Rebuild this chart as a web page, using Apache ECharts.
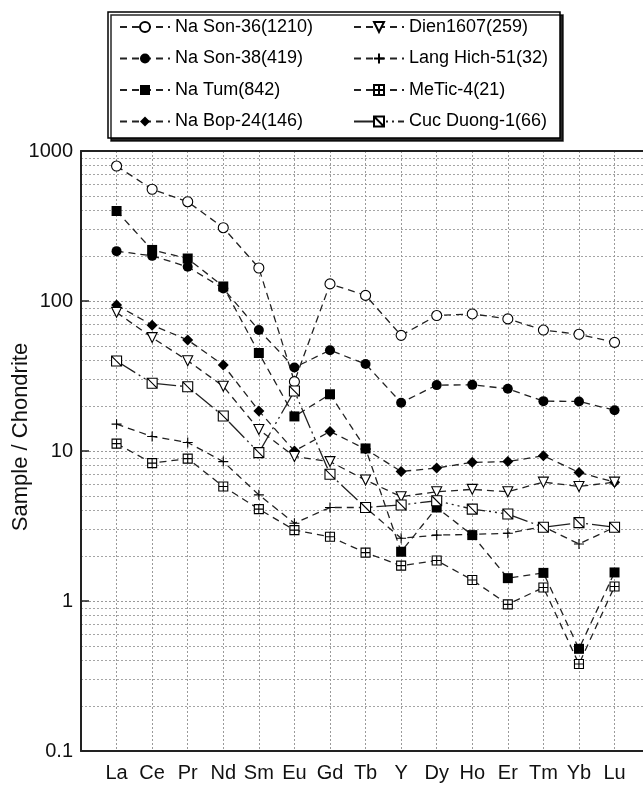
<!DOCTYPE html>
<html>
<head>
<meta charset="utf-8">
<script src="https://cdn.jsdelivr.net/npm/echarts@6/dist/echarts.min.js"></script>
<style>
  html, body { margin: 0; padding: 0; background: #fff; }
  #main { width: 643px; height: 785px; }
</style>
</head>
<body>
<div id="main"></div>
<script>
var elements = ['La', 'Ce', 'Pr', 'Nd', 'Sm', 'Eu', 'Gd', 'Tb', 'Y', 'Dy', 'Ho', 'Er', 'Tm', 'Yb', 'Lu'];
var yTickLabels = ['0.1', '1', '10', '100', '1000'];

var naSon36 = [794, 556, 459, 308, 166, 29, 130, 109, 59, 80, 82, 76, 64, 60, 53];
var naSon38 = [215, 200, 169, 121, 64, 36, 47, 38, 21, 27.5, 27.6, 26, 21.5, 21.4, 18.7];
var naTum = [398, 219, 192, 125, 45, 17, 23.9, 10.4, 2.13, 4.2, 2.75, 1.42, 1.54, 0.48, 1.55];
var naBop24 = [94, 69, 55, 37.4, 18.5, 10.0, 13.5, 10.3, 7.3, 7.7, 8.4, 8.5, 9.3, 7.2, 6.2];
var dien1607 = [84, 57, 40, 27, 13.9, 9.2, 8.5, 6.4, 4.96, 5.35, 5.55, 5.35, 6.2, 5.8, 6.2];
var langHich51 = [15.1, 12.5, 11.4, 8.5, 5.1, 3.3, 4.2, 4.2, 2.62, 2.75, 2.78, 2.83, 3.13, 2.4, 3.1];
var meTic4 = [11.2, 8.3, 8.9, 5.8, 4.1, 2.97, 2.68, 2.1, 1.72, 1.86, 1.38, 0.95, 1.23, 0.38, 1.25];
var cucDuong1 = [39.8, 28.3, 26.8, 17.1, 9.75, 25.1, 7.0, 4.2, 4.37, 4.66, 4.1, 3.8, 3.1, 3.33, 3.1];

var fontName = '"Liberation Sans", Arial, sans-serif';
var dashed = [7, 5];

// [x, y] pairs, x = position of the element on the axis (La = 1)
function toPoints(vals) {
  var out = [];
  for (var i = 0; i < vals.length; i++) {
    out.push([i + 1, vals[i]]);
  }
  return out;
}

function makeSeries(name, vals, symbol, filled, lineType, size) {
  return {
    name: name,
    type: 'line',
    data: toPoints(vals),
    symbol: symbol,
    symbolSize: size || 10,
    showAllSymbol: true,
    color: '#000',
    itemStyle: {
      color: filled ? '#000' : '#fff',
      borderColor: '#000',
      borderWidth: filled ? 0 : 1.1,
      opacity: 1
    },
    lineStyle: { color: '#222', width: 1.3, type: lineType },
    emphasis: { disabled: true },
    animation: false
  };
}

var chartDom = document.getElementById('main');
var chart = echarts.init(chartDom);

var legendText = { fontFamily: fontName, fontSize: 18, color: '#000', lineHeight: 20 };

var option = {
  backgroundColor: '#fff',
  animation: false,
  textStyle: { fontFamily: fontName },
  graphic: [{
    type: 'rect',
    z: 0,
    shape: { x: 108, y: 12, width: 452, height: 126 },
    style: {
      fill: '#fff', stroke: '#000', lineWidth: 1.5,
      shadowColor: 'rgba(0,0,0,0.85)', shadowOffsetX: 3, shadowOffsetY: 3, shadowBlur: 0
    }
  }],
  legend: [{
    data: ['Na Son-36(1210)', 'Na Son-38(419)', 'Na Tum(842)', 'Na Bop-24(146)'],
    orient: 'vertical',
    left: 119,
    top: 17,
    padding: 0,
    itemWidth: 50,
    itemHeight: 12.5,
    itemGap: 11.5,
    z: 10,
    selectedMode: false,
    textStyle: legendText
  }, {
    data: ['Dien1607(259)', 'Lang Hich-51(32)', 'MeTic-4(21)', 'Cuc Duong-1(66)'],
    orient: 'vertical',
    left: 353,
    top: 17,
    padding: 0,
    itemWidth: 50,
    itemHeight: 12.5,
    itemGap: 11.5,
    z: 10,
    selectedMode: false,
    textStyle: legendText
  }],
  grid: { left: 81, right: 0, top: 151, bottom: 34, containLabel: false, outerBoundsMode: 'none' },
  xAxis: [{
    type: 'value',
    min: 0,
    max: 15.8,
    interval: 1,
    axisLine: { show: true, onZero: false, lineStyle: { color: '#222', width: 2 } },
    axisTick: { show: false },
    axisLabel: {
      fontSize: 20,
      color: '#111',
      margin: 12,
      showMaxLabel: false,
      formatter: function (v) {
        var i = Math.round(v);
        if (Math.abs(v - i) > 1e-6 || i < 1 || i > elements.length) return '';
        return elements[i - 1];
      }
    },
    splitLine: { show: true, lineStyle: { color: '#9a9a9a', width: 1, type: [2, 2] } }
  }, {
    type: 'value',
    position: 'top',
    min: 0,
    max: 15.8,
    axisLine: { show: true, onZero: false, lineStyle: { color: '#222', width: 2 } },
    axisTick: { show: false },
    axisLabel: { show: false },
    splitLine: { show: false }
  }],
  yAxis: {
    type: 'log',
    logBase: 10,
    min: 0.1,
    max: 1000,
    name: 'Sample / Chondrite',
    nameLocation: 'middle',
    nameGap: 49,
    nameMoveOverlap: false,
    nameTextStyle: { fontSize: 22, color: '#111', fontFamily: fontName, padding: [0, 0, 0, 28] },
    axisLine: { show: true, lineStyle: { color: '#222', width: 2 } },
    axisTick: { show: true, inside: true, length: 8, lineStyle: { color: '#222', width: 1.5 } },
    minorTick: { show: false, splitNumber: 9 },
    axisLabel: {
      fontSize: 20,
      color: '#111',
      margin: 8,
      formatter: function (v) {
        var k = Math.round(Math.log(v) / Math.LN10) + 1;
        return yTickLabels[k] || '';
      }
    },
    splitLine: { show: true, lineStyle: { color: '#9a9a9a', width: 1, type: [2, 2] } },
    minorSplitLine: { show: true, lineStyle: { color: '#a5a5a5', width: 1, type: [2, 2] } }
  },
  series: [
    makeSeries('Na Son-36(1210)', naSon36, 'circle', false, dashed, 10),
    makeSeries('Na Son-38(419)', naSon38, 'circle', true, dashed, 10),
    makeSeries('Na Tum(842)', naTum, 'rect', true, dashed, 10),
    makeSeries('Na Bop-24(146)', naBop24, 'diamond', true, dashed, 11),
    makeSeries('Dien1607(259)', dien1607, 'path://M0,0L10,0L5,10Z', false, dashed, 10),
    makeSeries('Lang Hich-51(32)', langHich51, 'path://M5,0L5,10M0,5L10,5', false, dashed, 10),
    makeSeries('MeTic-4(21)', meTic4, 'path://M0,0H10V10H0ZM5,0V10M0,5H10', false, dashed, 9),
    makeSeries('Cuc Duong-1(66)', cucDuong1, 'path://M0,0H10V10H0ZM0,0L10,10', false, [22, 4, 2, 4, 2, 4, 2, 4], 10)
  ]
};

chart.setOption(option);
</script>
</body>
</html>
